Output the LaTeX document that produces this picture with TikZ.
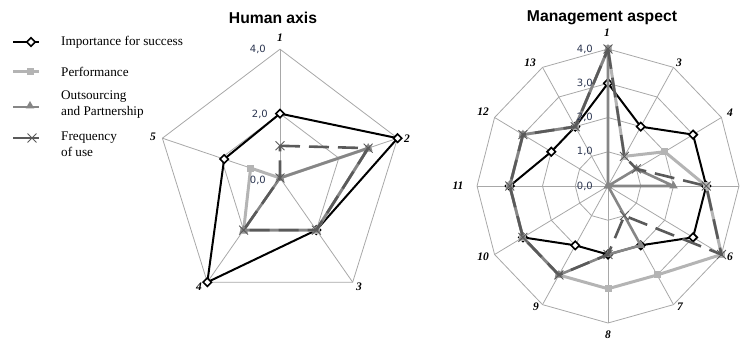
\documentclass[tikz,border=0pt]{standalone}
\usepackage{fontspec}
\setmainfont{Liberation Serif}
\setsansfont{Liberation Sans}
\newfontfamily\valfont{DejaVu Sans}
\usepackage{tikz}
\usetikzlibrary{shapes.geometric,shapes.misc,positioning}

\definecolor{gridgray}{HTML}{A8A8A8}
\definecolor{perfgray}{HTML}{B4B4B4}
\definecolor{outsgray}{HTML}{868686}
\definecolor{freqgray}{HTML}{5A5A5A}
\definecolor{valblue}{HTML}{2B3550}

\begin{document}
\begin{tikzpicture}[
    x=1pt, y=1pt,
    gridline/.style={draw=gridgray, line width=0.8pt},
    impline/.style={draw=black, line width=2pt, line join=round},
    perfline/.style={draw=perfgray, line width=3pt, line join=round},
    outsline/.style={draw=outsgray, line width=2.6pt, line join=round},
    freqline/.style={draw=freqgray, line width=2.6pt, dash pattern=on 20pt off 9pt},
    impmark/.style={diamond, draw=black, fill=white, line width=1.6pt, minimum size=9pt, inner sep=0pt},
    perfmark/.style={rectangle, fill=perfgray, minimum size=7pt, inner sep=0pt},
    outsmark/.style={regular polygon, regular polygon sides=3, fill=outsgray, minimum size=10pt, inner sep=0pt},
    freqmark/.style={cross out, draw=freqgray, line width=0.9pt, minimum size=8pt, inner sep=0pt},
    charttitle/.style={font=\sffamily\bfseries\fontsize{15.7}{18}\selectfont, inner sep=0pt},
    axlabel/.style={font=\bfseries\itshape\fontsize{11.5}{13}\selectfont, inner sep=0pt},
    vallabel/.style={font=\valfont\fontsize{10}{12}\selectfont, text=valblue, anchor=east, inner sep=0pt},
    legtext/.style={font=\fontsize{13.2}{15.5}\selectfont, align=left, anchor=west, inner sep=0pt}
]
    \useasboundingbox (0,0) rectangle (744,340);

    % --- LEGEND ---
    \coordinate (limpa) at (13,298);
    \coordinate (limpb) at (39,298);
    \draw[impline] (limpa) -- (limpb);
    \node[impmark] (limpm) at (31,298) {};
    \node[legtext] (limpt) at (61,298) {Importance for success};

    \coordinate (lperfa) at (13,268);
    \coordinate (lperfb) at (39,268);
    \draw[perfline] (lperfa) -- (lperfb);
    \node[perfmark] (lperfm) at (30,268) {};
    \node[legtext] (lperft) at (61,268) {Performance};

    \coordinate (loutsa) at (13,233);
    \coordinate (loutsb) at (39,233);
    \draw[outsline] (loutsa) -- (loutsb);
    \node[outsmark] (loutsm) at (30,234) {};
    \node[legtext] (loutst) at (61,235.5) {Outsourcing\\and Partnership};

    \coordinate (lfreqa) at (13,202);
    \coordinate (lfreqb) at (39,202);
    \draw[outsline, draw=freqgray] (lfreqa) -- (lfreqb);
    \node[freqmark] (lfreqm) at (32,202) {};
    \node[legtext] (lfreqt) at (61,196) {Frequency\\of use};

    % --- HUMAN AXIS ---
    \node[charttitle] (htitle) at (273,322) {Human axis};
    \begin{scope}[shift={(280,162)}, xscale=0.96]
        \foreach \r in {64.4,128.8}
            \draw[gridline] (90:\r) -- (18:\r) -- (-54:\r) -- (-126:\r) -- (-198:\r) -- cycle;
        \foreach \a in {90,18,-54,-126,-198}
            \draw[gridline] (0,0) -- (\a:128.8);

        \foreach \v [count=\k] in {2,4,2,4,1.9}
            \coordinate (hi\k) at ({90-72*(\k-1)}:{32.2*\v});
        \foreach \v [count=\k] in {0,3,2,2,1}
            \coordinate (hp\k) at ({90-72*(\k-1)}:{32.2*\v});
        \foreach \v [count=\k] in {0,3,2,2,0}
            \coordinate (ho\k) at ({90-72*(\k-1)}:{32.2*\v});
        \foreach \v [count=\k] in {1,3,2,2,0}
            \coordinate (hf\k) at ({90-72*(\k-1)}:{32.2*\v});
    \end{scope}

    \draw[impline] (hi1) -- (hi2) -- (hi3) -- (hi4) -- (hi5) -- cycle;
    \foreach \k in {1,...,5} \node[impmark] (him\k) at (hi\k) {};
    \draw[perfline] (hp1) -- (hp2) -- (hp3) -- (hp4) -- (hp5) -- cycle;
    \foreach \k in {1,...,5} \node[perfmark] (hpm\k) at (hp\k) {};
    \draw[outsline] (ho1) -- (ho2) -- (ho3) -- (ho4) -- (ho5) -- cycle;
    \foreach \k in {1,...,5} \node[outsmark] (hom\k) at (ho\k) {};
    \draw[freqline] (hf1) -- (hf2) -- (hf3) -- (hf4) -- (hf5) -- cycle;
    \foreach \k in {1,...,5} \node[freqmark] (hfm\k) at (hf\k) {};

    \node[axlabel] (hl1) at (280,302) {1};
    \node[axlabel] (hl2) at (407,201) {2};
    \node[axlabel] (hl3) at (359,53) {3};
    \node[axlabel] (hl4) at (199,53) {4};
    \node[axlabel] (hl5) at (153,203) {5};
    \node[vallabel] (hv4) at (266,291) {4,0};
    \node[vallabel] (hv2) at (268,226) {2,0};
    \node[vallabel] (hv0) at (266,160) {0,0};

    % --- MANAGEMENT ASPECT ---
    \node[charttitle] (mtitle) at (602,322) {Management aspect};
    \begin{scope}[shift={(608,154)}, xscale=0.956]
        \foreach \r in {34.25,68.5,102.75,137}
            \draw[gridline] (90:\r) \foreach \a in {60,30,...,-240} { -- (\a:\r)} -- cycle;
        \foreach \a in {90,60,...,-240}
            \draw[gridline] (0,0) -- (\a:137);

        \foreach \v [count=\k] in {3,2,3,3,3,2,2,2,3,3,2,2}
            \coordinate (mi\k) at ({90-30*(\k-1)}:{34.25*\v});
        \foreach \v [count=\k] in {4,1,2,3,4,3,3,3,3,3,3,2}
            \coordinate (mp\k) at ({90-30*(\k-1)}:{34.25*\v});
        \foreach \v [count=\k] in {4,0,1,2,0,2,2,3,3,3,3,2}
            \coordinate (mo\k) at ({90-30*(\k-1)}:{34.25*\v});
        \foreach \v [count=\k] in {4,1,1,3,4,1,2,3,3,3,3,2}
            \coordinate (mf\k) at ({90-30*(\k-1)}:{34.25*\v});
    \end{scope}

    \draw[impline] (mi1) \foreach \k in {2,...,12} { -- (mi\k)} -- cycle;
    \foreach \k in {1,...,12} \node[impmark] (mim\k) at (mi\k) {};
    \draw[perfline] (mp1) \foreach \k in {2,...,12} { -- (mp\k)} -- cycle;
    \foreach \k in {1,...,12} \node[perfmark] (mpm\k) at (mp\k) {};
    \draw[outsline] (mo1) \foreach \k in {2,...,12} { -- (mo\k)} -- cycle;
    \foreach \k in {1,...,12} \node[outsmark] (mom\k) at (mo\k) {};
    \draw[freqline] (mf1) \foreach \k in {2,...,12} { -- (mf\k)} -- cycle;
    \foreach \k in {1,...,12} \node[freqmark] (mfm\k) at (mf\k) {};

    \node[axlabel] (ml1) at (607,307) {1};
    \node[axlabel] (ml3) at (679,277) {3};
    \node[axlabel] (ml4) at (730,227) {4};
    \node[axlabel] (ml6) at (730,83) {6};
    \node[axlabel] (ml7) at (680,33) {7};
    \node[axlabel] (ml8) at (608,5) {8};
    \node[axlabel] (ml9) at (536,33) {9};
    \node[axlabel] (ml10) at (483,83) {10};
    \node[axlabel] (ml11) at (458,154) {11};
    \node[axlabel] (ml12) at (483,228) {12};
    \node[axlabel] (ml13) at (530,277) {13};
    \node[vallabel] (mv4) at (593,291) {4,0};
    \node[vallabel] (mv3) at (593,256.75) {3,0};
    \node[vallabel] (mv2) at (593,222.5) {2,0};
    \node[vallabel] (mv1) at (593,188.25) {1,0};
    \node[vallabel] (mv0) at (593,154) {0,0};

\end{tikzpicture}
\end{document}
